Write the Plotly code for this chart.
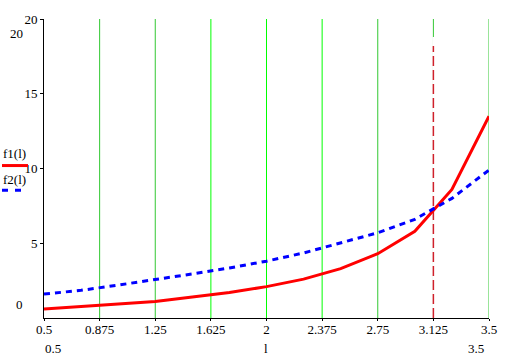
import plotly.graph_objects as go

# Data
l_vals = [0.5, 0.75, 1.0, 1.25, 1.5, 1.75, 2.0, 2.25, 2.5, 2.75, 3.0, 3.25, 3.5]
f1_vals = [0.6, 0.75, 0.9, 1.1, 1.4, 1.7, 2.1, 2.6, 3.3, 4.3, 5.8, 8.6, 13.5]
f2_vals = [1.6, 1.85, 2.2, 2.55, 2.95, 3.35, 3.8, 4.35, 5.0, 5.7, 6.6, 8.0, 9.9]
x_ticks = [0.5, 0.875, 1.25, 1.625, 2, 2.375, 2.75, 3.125, 3.5]
x_tick_labels = ["0.5", "0.875", "1.25", "1.625", "2", "2.375", "2.75", "3.125", "3.5"]
y_ticks = [5, 10, 15, 20]
y_tick_labels = ["5", "10", "15", "20"]
bright_grid = [1.625, 2, 2.375]
dim_grid = [0.875, 1.25, 2.75, 3.125, 3.5]
marker_x = 3.125

FONT = "Liberation Serif"

fig = go.Figure()
fig.add_trace(go.Scatter(x=l_vals, y=f1_vals, mode="lines",
                         line=dict(color="#ff0000", width=3), showlegend=False))
fig.add_trace(go.Scatter(x=l_vals, y=f2_vals, mode="lines",
                         line=dict(color="#0000ff", width=3, dash="6px,5px"), showlegend=False))

shapes = []
for gx in bright_grid:
    shapes.append(dict(type="line", xref="x", yref="y", x0=gx, x1=gx, y0=0, y1=20,
                       line=dict(color="#00ff00", width=1), layer="below"))
for gx in dim_grid:
    shapes.append(dict(type="line", xref="x", yref="y", x0=gx, x1=gx, y0=0, y1=20,
                       line=dict(color="#33c833", width=1), layer="below"))
# marker line at 3.125
shapes.append(dict(type="line", xref="x", yref="y", x0=marker_x, x1=marker_x, y0=0, y1=18.8,
                   line=dict(color="white", width=2), layer="below"))
shapes.append(dict(type="line", xref="x", yref="y", x0=marker_x, x1=marker_x, y0=0, y1=18.2,
                   line=dict(color="#d0202c", width=1.5, dash="10px,4px"), layer="below"))
# legend samples
shapes.append(dict(type="line", xref="paper", yref="paper",
                   x0=-42/445, x1=-16/445, y0=(318-163)/304, y1=(318-163)/304,
                   line=dict(color="#ff0000", width=3)))
shapes.append(dict(type="line", xref="paper", yref="paper",
                   x0=-42/445, x1=-16/445, y0=(318-188)/304, y1=(318-188)/304,
                   line=dict(color="#0000ff", width=3, dash="6px,7px")))

annotations = [
    dict(text="f1(l)", xref="paper", yref="paper", x=-43/445, y=(318-151)/304,
         xanchor="left", yanchor="middle", showarrow=False, font=dict(family=FONT, size=13, color="black")),
    dict(text="f2(l)", xref="paper", yref="paper", x=-43/445, y=(318-177)/304,
         xanchor="left", yanchor="middle", showarrow=False, font=dict(family=FONT, size=13, color="black")),
    dict(text="20", xref="paper", yref="paper", x=-19/445, y=(318-29)/304,
         xanchor="right", yanchor="middle", showarrow=False, font=dict(family=FONT, size=13, color="black")),
    dict(text="0", xref="paper", yref="paper", x=-19/445, y=(318-304)/304,
         xanchor="right", yanchor="middle", showarrow=False, font=dict(family=FONT, size=13, color="black")),
    dict(text="0.5", xref="paper", yref="paper", x=(53-44)/445, y=-(349-318)/304,
         xanchor="center", yanchor="middle", showarrow=False, font=dict(family=FONT, size=13, color="black")),
    dict(text="l", xref="paper", yref="paper", x=(266-44)/445, y=-(349-318)/304,
         xanchor="center", yanchor="middle", showarrow=False, font=dict(family=FONT, size=13, color="black")),
    dict(text="3.5", xref="paper", yref="paper", x=(476-44)/445, y=-(349-318)/304,
         xanchor="center", yanchor="middle", showarrow=False, font=dict(family=FONT, size=13, color="black")),
]

fig.update_layout(
    width=525, height=363,
    margin=dict(l=44, r=36, t=14, b=45),
    paper_bgcolor="white", plot_bgcolor="white",
    font=dict(family=FONT, size=13, color="black"),
    shapes=shapes, annotations=annotations,
    showlegend=False,
)
fig.update_xaxes(range=[0.5, 3.5], tickvals=x_ticks, ticktext=x_tick_labels,
                 showgrid=False, zeroline=False, showline=True, linecolor="black", linewidth=1,
                 ticks="outside", ticklen=2, tickcolor="black", ticklabelstandoff=-3)
fig.update_yaxes(range=[0, 20], tickvals=y_ticks, ticktext=y_tick_labels,
                 showgrid=False, zeroline=False, showline=True, linecolor="black", linewidth=1,
                 ticks="outside", ticklen=3, tickcolor="black", ticklabelstandoff=0)

fig.write_html("out.html")
